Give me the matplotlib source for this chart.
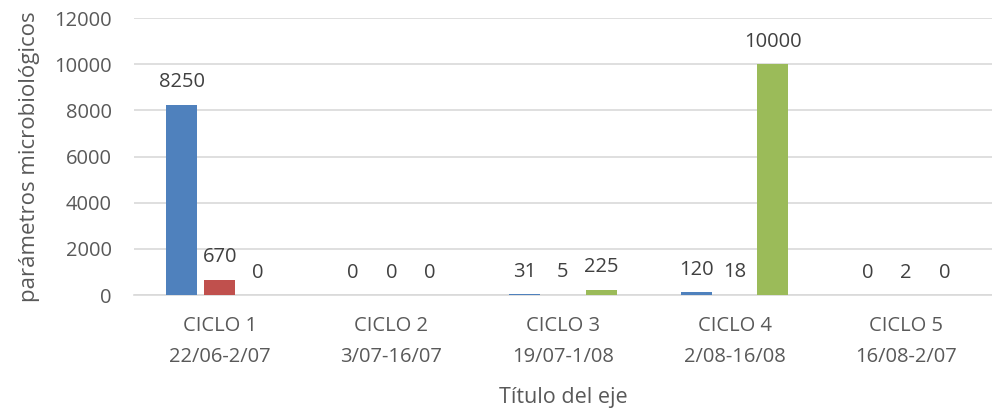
import numpy as np
import matplotlib
matplotlib.use('agg')
import matplotlib.pyplot as plt

# Datos
ciclos = ['CICLO 1\n22/06-2/07', 'CICLO 2\n3/07-16/07', 'CICLO 3\n19/07-1/08',
          'CICLO 4\n2/08-16/08', 'CICLO 5\n16/08-2/07']
serie_azul = [8250, 0, 31, 120, 0]
serie_roja = [670, 0, 5, 18, 2]
serie_verde = [0, 0, 225, 10000, 0]

colores = ['#4F81BD', '#C0504D', '#9BBB59']
gris_texto = '#595959'

plt.rcParams['font.family'] = ['Open Sans', 'DejaVu Sans']

fig = plt.figure(figsize=(9.92, 4.11), dpi=100)
ax = fig.add_axes([0.135, 0.282, 0.865, 0.674])

x = np.arange(len(ciclos))
ancho = 0.18
sep = 0.222

for i, (serie, color) in enumerate(zip([serie_azul, serie_roja, serie_verde], colores)):
    barras = ax.bar(x + (i - 1) * sep, serie, width=ancho, color=color, zorder=3)
    for b, v in zip(barras, serie):
        ax.annotate(f'{v}', (b.get_x() + b.get_width() / 2, v),
                    xytext=(0, 9), textcoords='offset points',
                    ha='center', va='bottom', fontsize=14.5, color='#404040')

ax.set_xlim(-0.5, len(ciclos) - 0.5)
ax.set_ylim(0, 12000)
ax.set_yticks(range(0, 12001, 2000))
ax.set_xticks(x)
ax.set_xticklabels(ciclos, fontsize=14.5, color=gris_texto, linespacing=1.75)
ax.tick_params(axis='y', labelsize=14.5, labelcolor=gris_texto, length=0, pad=16)
ax.tick_params(axis='x', length=0, pad=15)

ax.grid(axis='y', color='#D9D9D9', linewidth=1.2, zorder=0)
for lado in ['top', 'right', 'left']:
    ax.spines[lado].set_visible(False)
ax.spines['bottom'].set_color('#D9D9D9')
ax.spines['bottom'].set_linewidth(1.2)

ax.set_ylabel('parámetros microbiológicos', fontsize=16, color=gris_texto, labelpad=10)
ax.set_xlabel('Título del eje', fontsize=15.5, color=gris_texto, labelpad=14)

plt.savefig('out.png', dpi=100)
